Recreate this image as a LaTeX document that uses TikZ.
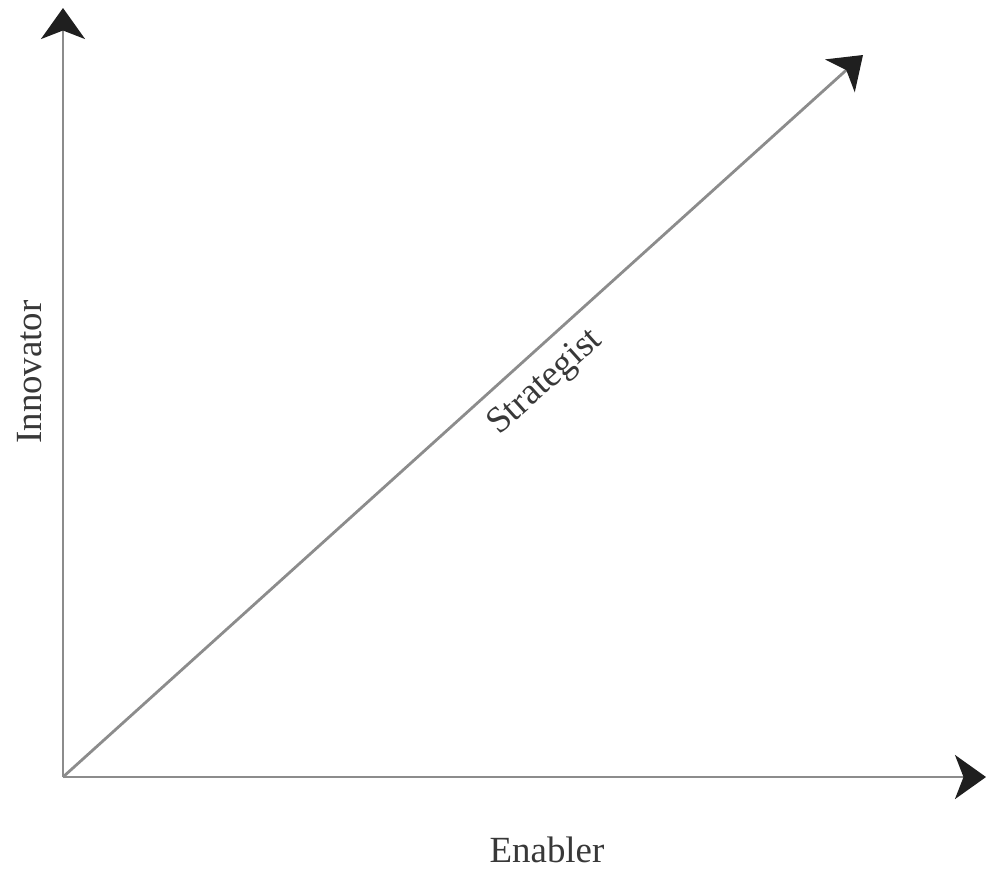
\documentclass[tikz,border=0pt]{standalone}
\usepackage{fontspec}
\setmainfont{Liberation Serif}
\usetikzlibrary{arrows.meta}
\begin{document}
\begin{tikzpicture}[x=0.02cm,y=-0.02cm,
  axis/.style={draw=black!45, line width=1.6pt,
    -{Stealth[length=0.62cm,width=0.88cm,inset=0.17cm,color=black!88]}},
  lab/.style={text=black!78, font=\fontsize{21}{25}\selectfont, inner sep=0pt}]
\useasboundingbox (0,0) rectangle (986,872);
\coordinate (o) at (63,777);
\coordinate (ytip) at (63,8);
\coordinate (xtip) at (986,777);
\coordinate (dtip) at (863,55);
\draw[axis] (o) -- (ytip);
\draw[axis] (o) -- (xtip);
\draw[axis] (o) -- (dtip);
\node[lab, rotate=90] (inn) at (30,372) {Innovator};
\node[lab] (ena) at (547,850) {Enabler};
\node[lab, rotate=42] (str) at (546,383) {Strategist};
\end{tikzpicture}
\end{document}
